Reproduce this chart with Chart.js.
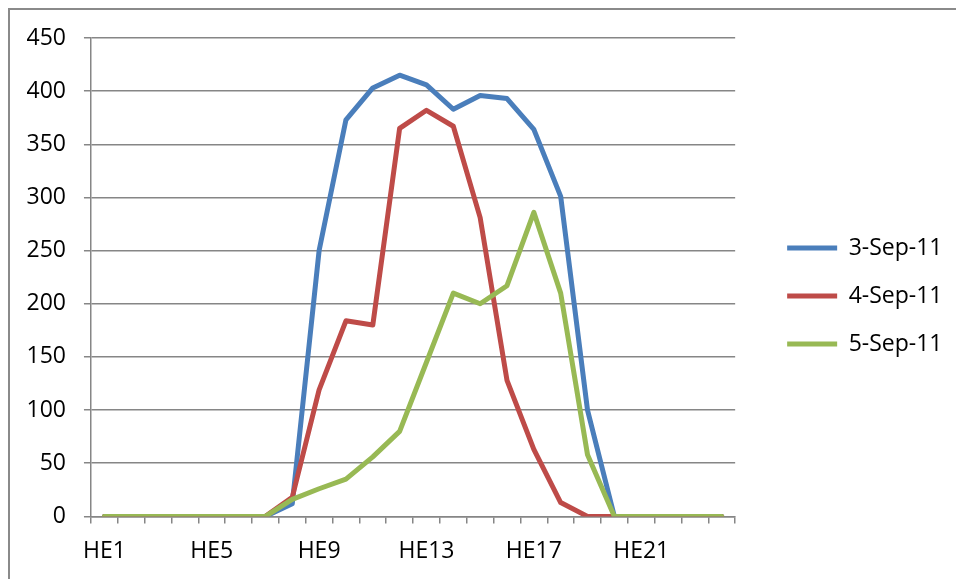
<!DOCTYPE html>
<html>
<head>
<meta charset="utf-8">
<script src="https://cdn.jsdelivr.net/npm/chart.js@4/dist/chart.umd.min.js"></script>
<style>
  html, body { margin: 0; padding: 0; background: #fff; overflow: hidden; }
  #frame { position: absolute; left: 8px; top: 8px; width: 980px; height: 600px; border: 2px solid #8a8a8a; }
  #wrap { position: absolute; left: 0; top: 0; width: 956px; height: 579px; }
</style>
</head>
<body>
<div id="frame"></div>
<div id="wrap"><canvas id="chart"></canvas></div>
<script>
const hours = ['HE1', 'HE2', 'HE3', 'HE4', 'HE5', 'HE6', 'HE7', 'HE8', 'HE9', 'HE10', 'HE11', 'HE12',
  'HE13', 'HE14', 'HE15', 'HE16', 'HE17', 'HE18', 'HE19', 'HE20', 'HE21', 'HE22', 'HE23', 'HE24']
const sep3 = [0, 0, 0, 0, 0, 0, 0, 12, 250, 373, 403, 415, 406, 383, 396, 393, 364, 301, 100, 0, 0, 0, 0, 0]
const sep4 = [0, 0, 0, 0, 0, 0, 0, 18, 119, 184, 180, 365, 382, 367, 281, 128, 63, 13, 0, 0, 0, 0, 0, 0]
const sep5 = [0, 0, 0, 0, 0, 0, 0, 16, 26, 35, 56, 80, 145, 210, 200, 217, 286, 210, 58, 0, 0, 0, 0, 0]
const seriesNames = ['3-Sep-11', '4-Sep-11', '5-Sep-11']
const colors = ['#4a7ebb', '#be4b48', '#98b954']

const gridColor = '#868686'
Chart.defaults.color = '#000'
Chart.defaults.font.family = "'Open Sans', sans-serif"
Chart.defaults.font.size = 23

// later series drawn on top, like the original
const line = (label, data, color, order) => ({
  label: label,
  data: data,
  order: order,
  borderColor: color,
  backgroundColor: color,
  borderWidth: 5,
  borderCapStyle: 'round',
  borderJoinStyle: 'round',
  pointRadius: 0,
  tension: 0,
})

// hidden axes only used to leave gaps around the plot
const spacer = (pos, size) => ({
  type: 'linear',
  position: pos,
  display: true,
  grid: { display: false },
  ticks: { display: false },
  border: { display: false },
  afterFit: s => { if (pos === 'top') s.height = size; else s.width = size },
})

function draw() {
  new Chart(document.getElementById('chart'), {
    type: 'line',
    data: {
      labels: hours,
      datasets: [
        line(seriesNames[0], sep3, colors[0], 2),
        line(seriesNames[1], sep4, colors[1], 1),
        line(seriesNames[2], sep5, colors[2], 0),
      ]
    },
    options: {
      responsive: true,
      maintainAspectRatio: false,
      animation: false,
      layout: { padding: { left: 8.5, right: 3.5, top: 13, bottom: 0 } },
      scales: {
        x: {
          offset: true,
          grid: { display: true, offset: true, drawOnChartArea: false, drawTicks: true, tickLength: 7, color: gridColor, lineWidth: 1.5 },
          border: { color: gridColor, width: 1.5 },
          ticks: {
            autoSkip: false,
            maxRotation: 0,
            padding: 14,
            callback: (v, i) => i % 4 === 0 ? hours[i] : '',
          },
        },
        y: {
          min: 0,
          max: 450,
          grid: { color: gridColor, lineWidth: 1.5, tickLength: 7 },
          border: { color: gridColor, width: 1.5 },
          ticks: { stepSize: 50, padding: 18 },
        },
        gapT: spacer('top', 25),
        gapR: spacer('right', 27),
      },
      plugins: {
        legend: {
          position: 'right',
          maxWidth: 400,
          labels: {
            usePointStyle: true,
            pointStyle: 'line',
            pointStyleWidth: 50,
            padding: 25,
            sort: (a, b) => a.datasetIndex - b.datasetIndex,
          },
        },
        tooltip: { enabled: false },
      }
    }
  })
}

document.fonts.load("23px 'Open Sans'").then(draw, draw)
</script>
</body>
</html>
